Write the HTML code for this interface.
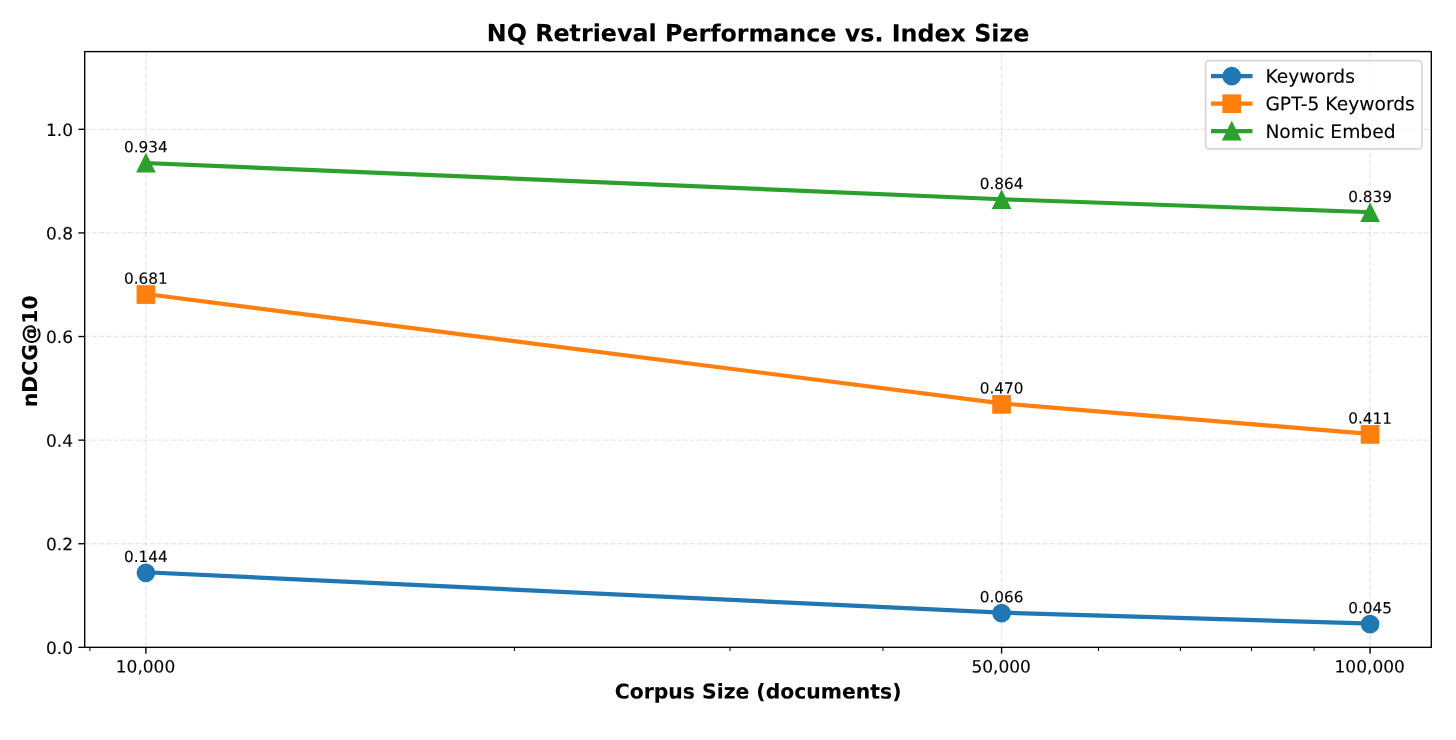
<!DOCTYPE html>
<html lang="en">
<head>
<meta charset="utf-8">
<title>NQ Retrieval Performance vs. Index Size</title>
<style>
html,body{margin:0;padding:0;background:#fff;}
body{width:1456px;height:740px;overflow:hidden;}
svg{display:block;}
svg text{font-family:"DejaVu Sans", "Liberation Sans", sans-serif;fill:#000;text-rendering:geometricPrecision;stroke:#000;stroke-width:0.1px;}
.tick{font-size:16.99px;}
.ann{font-size:15.29px;text-anchor:middle;}
.lab{font-size:20.38px;font-weight:bold;text-anchor:middle;}
.ttl{font-size:23.78px;font-weight:bold;text-anchor:middle;}
.leg{font-size:18.68px;}
.grid line{stroke:#b0b0b0;stroke-opacity:0.3;stroke-width:1.36;stroke-dasharray:5.03 2.17;}
.maj line{stroke:#000;stroke-width:1.36;}
.min line{stroke:#000;stroke-width:1.02;}
.ser polyline,.ser line{fill:none;stroke-width:4.16;stroke-linecap:square;stroke-linejoin:round;}
.mk{stroke-width:1.7;}
</style>
</head>
<body>
<svg width="1456" height="740" viewBox="0 0 1456 740" role="img" aria-label="NQ Retrieval Performance vs. Index Size">
<rect x="0" y="0" width="1456" height="740" fill="#fff"/>
<g class="grid">
<line x1="145.91" y1="647.35" x2="145.91" y2="51.6"/>
<line x1="1001.58" y1="647.35" x2="1001.58" y2="51.6"/>
<line x1="1370.09" y1="647.35" x2="1370.09" y2="51.6"/>
<line x1="84.7" y1="647.35" x2="1431.3" y2="647.35"/>
<line x1="84.7" y1="543.74" x2="1431.3" y2="543.74"/>
<line x1="84.7" y1="440.13" x2="1431.3" y2="440.13"/>
<line x1="84.7" y1="336.52" x2="1431.3" y2="336.52"/>
<line x1="84.7" y1="232.92" x2="1431.3" y2="232.92"/>
<line x1="84.7" y1="129.31" x2="1431.3" y2="129.31"/>
</g>
<g class="maj">
<line x1="145.91" y1="647.35" x2="145.91" y2="653.65"/>
<line x1="1001.58" y1="647.35" x2="1001.58" y2="653.65"/>
<line x1="1370.09" y1="647.35" x2="1370.09" y2="653.65"/>
<line x1="84.7" y1="647.35" x2="78.4" y2="647.35"/>
<line x1="84.7" y1="543.74" x2="78.4" y2="543.74"/>
<line x1="84.7" y1="440.13" x2="78.4" y2="440.13"/>
<line x1="84.7" y1="336.52" x2="78.4" y2="336.52"/>
<line x1="84.7" y1="232.92" x2="78.4" y2="232.92"/>
<line x1="84.7" y1="129.31" x2="78.4" y2="129.31"/>
</g>
<g class="min">
<line x1="89.89" y1="647.35" x2="89.89" y2="650.95"/>
<line x1="514.42" y1="647.35" x2="514.42" y2="650.95"/>
<line x1="729.99" y1="647.35" x2="729.99" y2="650.95"/>
<line x1="882.94" y1="647.35" x2="882.94" y2="650.95"/>
<line x1="1098.51" y1="647.35" x2="1098.51" y2="650.95"/>
<line x1="1180.46" y1="647.35" x2="1180.46" y2="650.95"/>
<line x1="1251.46" y1="647.35" x2="1251.46" y2="650.95"/>
<line x1="1314.08" y1="647.35" x2="1314.08" y2="650.95"/>
</g>
<g class="ser">
<polyline stroke="#1f77b4" points="145.91,572.25 1001.58,612.66 1370.09,623.54"/>
<circle class="mk" cx="145.91" cy="572.85" r="8.49" fill="#1f77b4" stroke="#1f77b4"/>
<circle class="mk" cx="1001.58" cy="613.16" r="8.49" fill="#1f77b4" stroke="#1f77b4"/>
<circle class="mk" cx="1370.09" cy="624.04" r="8.49" fill="#1f77b4" stroke="#1f77b4"/>
</g>
<g class="ser">
<polyline stroke="#ff7f0e" points="145.91,294.06 1001.58,403.37 1370.09,433.93"/>
<rect class="mk" x="137.42" y="286.07" width="16.99" height="16.99" fill="#ff7f0e" stroke="#ff7f0e"/>
<rect class="mk" x="993.08" y="395.88" width="16.99" height="16.99" fill="#ff7f0e" stroke="#ff7f0e"/>
<rect class="mk" x="1361.6" y="425.94" width="16.99" height="16.99" fill="#ff7f0e" stroke="#ff7f0e"/>
</g>
<g class="ser">
<polyline stroke="#2ca02c" points="145.91,163 1001.58,199.26 1370.09,212.21"/>
<polygon class="mk" stroke-linejoin="miter" points="145.91,154.6 137.42,171.59 154.4,171.59" fill="#2ca02c" stroke="#2ca02c"/>
<polygon class="mk" stroke-linejoin="miter" points="1001.58,191.27 993.08,208.25 1010.07,208.25" fill="#2ca02c" stroke="#2ca02c"/>
<polygon class="mk" stroke-linejoin="miter" points="1370.09,204.22 1361.6,221.2 1378.58,221.2" fill="#2ca02c" stroke="#2ca02c"/>
</g>
<rect x="84.7" y="51.6" width="1346.6" height="595.75" fill="none" stroke="#000" stroke-width="1.36" stroke-linejoin="miter"/>
<g class="tick" text-anchor="middle">
<text transform="matrix(1 0.0005 0 1 145.51 672.54)">10,000</text>
<text transform="matrix(1 0.0005 0 1 1001.18 672.54)">50,000</text>
<text transform="matrix(1 0.0005 0 1 1369.69 672.54)">100,000</text>
</g>
<g class="tick" text-anchor="end">
<text transform="matrix(1 0.0005 0 1 73 653.95)">0.0</text>
<text transform="matrix(1 0.0005 0 1 73 550.34)">0.2</text>
<text transform="matrix(1 0.0005 0 1 73 446.73)">0.4</text>
<text transform="matrix(1 0.0005 0 1 73 343.12)">0.6</text>
<text transform="matrix(1 0.0005 0 1 73 239.52)">0.8</text>
<text transform="matrix(1 0.0005 0 1 73 135.91)">1.0</text>
</g>
<text class="lab" transform="matrix(1 0.0005 0 1 758.1 698.5)">Corpus Size (documents)</text>
<text class="lab" transform="translate(37 351.3) rotate(-90)">nDCG@10</text>
<text class="ttl" transform="matrix(1 0.0005 0 1 758.1 41.41)">NQ Retrieval Performance vs. Index Size</text>
<g class="ann">
<text transform="matrix(1 0.0005 0 1 145.91 562.05)">0.144</text>
<text transform="matrix(1 0.0005 0 1 1001.58 602.36)">0.066</text>
<text transform="matrix(1 0.0005 0 1 1370.09 613.24)">0.045</text>
<text transform="matrix(1 0.0005 0 1 145.91 283.76)">0.681</text>
<text transform="matrix(1 0.0005 0 1 1001.58 393.57)">0.470</text>
<text transform="matrix(1 0.0005 0 1 1370.09 423.63)">0.411</text>
<text transform="matrix(1 0.0005 0 1 145.91 152.3)">0.934</text>
<text transform="matrix(1 0.0005 0 1 1001.58 188.96)">0.864</text>
<text transform="matrix(1 0.0005 0 1 1370.09 201.91)">0.839</text>
</g>
<g class="legend">
<rect x="1205.6" y="60.7" width="216.36" height="88.2" rx="3.74" ry="3.74" fill="#fff" fill-opacity="0.8" stroke="#ccc" stroke-opacity="0.8" stroke-width="1.7"/>
<g class="ser"><line stroke="#1f77b4" x1="1213.05" y1="76.14" x2="1250.42" y2="76.14"/><circle class="mk" cx="1231.74" cy="76.14" r="8.49" fill="#1f77b4" stroke="#1f77b4"/></g>
<text class="leg" transform="matrix(1 0.0005 0 1 1265.4 82.68)">Keywords</text>
<g class="ser"><line stroke="#ff7f0e" x1="1213.05" y1="103.7" x2="1250.42" y2="103.7"/><rect class="mk" x="1223.25" y="95.21" width="16.99" height="16.99" fill="#ff7f0e" stroke="#ff7f0e"/></g>
<text class="leg" transform="matrix(1 0.0005 0 1 1265.4 110.3)">GPT-5 Keywords</text>
<g class="ser"><line stroke="#2ca02c" x1="1213.05" y1="131.1" x2="1250.42" y2="131.1"/><polygon class="mk" stroke-linejoin="miter" points="1231.74,122.61 1223.25,139.59 1240.23,139.59" fill="#2ca02c" stroke="#2ca02c"/></g>
<text class="leg" transform="matrix(1 0.0005 0 1 1265.4 137.9)">Nomic Embed</text>
</g>
</svg>
</body>
</html>
